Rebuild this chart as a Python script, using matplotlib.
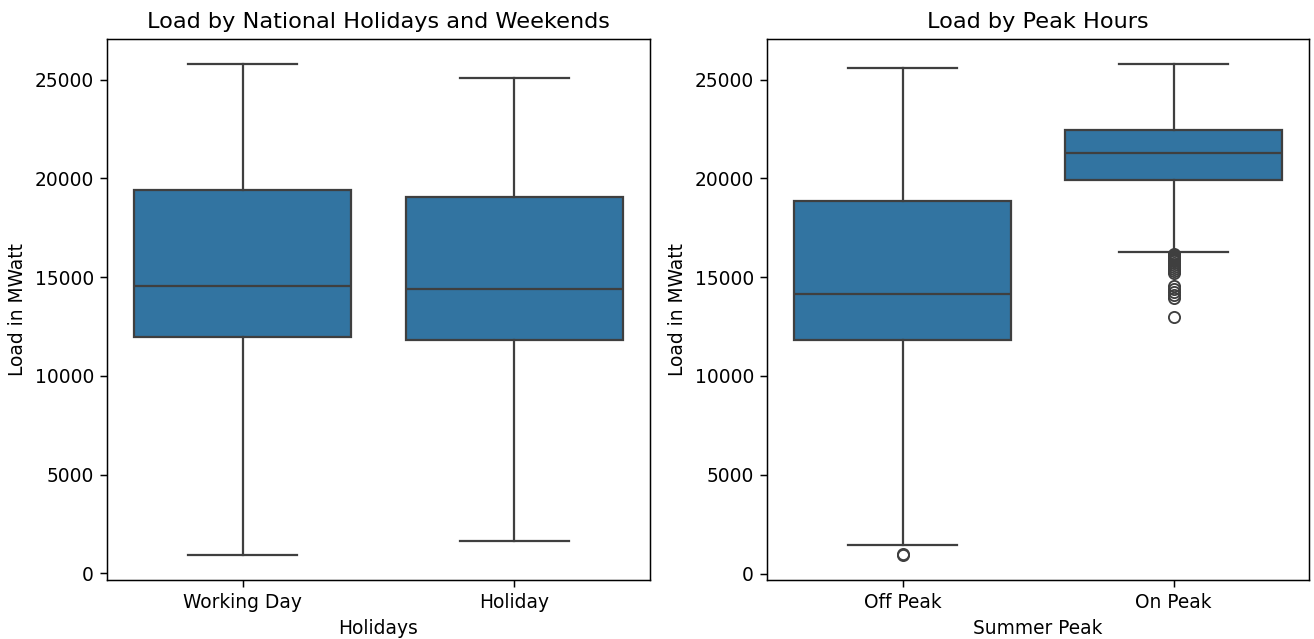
import numpy as np
import matplotlib
matplotlib.use('Agg')
import matplotlib.pyplot as plt

# summary stats (MWatt)
holiday_cats = ['Working Day', 'Holiday']
holiday_low = [910, 1620]
holiday_q1 = [11990, 11840]
holiday_med = [14570, 14420]
holiday_q3 = [19430, 19080]
holiday_high = [25810, 25100]
holiday_fliers = [[], []]

peak_cats = ['Off Peak', 'On Peak']
peak_low = [1470, 16250]
peak_q1 = [11840, 19940]
peak_med = [14170, 21260]
peak_q3 = [18880, 22470]
peak_high = [25610, 25810]
peak_fliers = [
    [1000, 920],
    [16150, 16100, 16050, 16000, 15950, 15900, 15850, 15800, 15700, 15600,
     15500, 15400, 15300, 15200, 14570, 14400, 14250, 14100, 13970, 13000],
]

BOX = '#3274a1'
LINE = '#3f3f3f'
LW = 1.2
DPI = 134
W, H = 1314, 639


def draw(ax, cats, low, q1, med, q3, high, fliers, title, xlabel):
    stats = []
    for i in range(len(cats)):
        stats.append(dict(whislo=low[i], q1=q1[i], med=med[i], q3=q3[i],
                          whishi=high[i], fliers=fliers[i], label=cats[i]))
    ax.bxp(stats, positions=range(len(cats)), widths=0.8, patch_artist=True,
           boxprops=dict(facecolor=BOX, edgecolor=LINE, linewidth=LW),
           medianprops=dict(color=LINE, linewidth=LW),
           whiskerprops=dict(color=LINE, linewidth=LW),
           capprops=dict(color=LINE, linewidth=LW),
           capwidths=0.4,
           flierprops=dict(marker='o', markerfacecolor='none',
                           markeredgecolor=LINE, markersize=6, linewidth=0))
    ax.set_xlim(-0.5, len(cats) - 0.5)
    ax.set_title(title, fontsize=12)
    ax.set_xlabel(xlabel)
    ax.set_ylabel('Load in MWatt')
    ax.set_yticks([0, 5000, 10000, 15000, 20000, 25000])


fig = plt.figure(figsize=(W / DPI, H / DPI), dpi=DPI)
ax1 = fig.add_axes([107 / W, 1 - 580 / H, 543 / W, 541 / H])
ax2 = fig.add_axes([767 / W, 1 - 580 / H, 542 / W, 541 / H])
draw(ax1, holiday_cats, holiday_low, holiday_q1, holiday_med, holiday_q3,
     holiday_high, holiday_fliers, 'Load by National Holidays and Weekends', 'Holidays')
draw(ax2, peak_cats, peak_low, peak_q1, peak_med, peak_q3,
     peak_high, peak_fliers, 'Load by Peak Hours', 'Summer Peak')
plt.savefig('out.png', dpi=DPI)
